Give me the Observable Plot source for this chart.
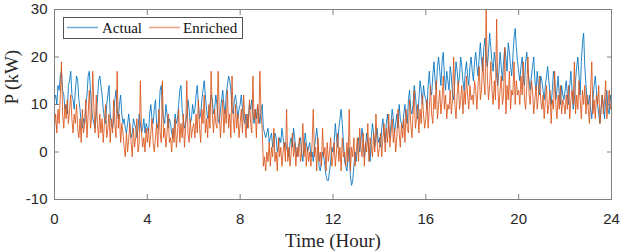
<!DOCTYPE html>
<html>
<head>
<meta charset="utf-8">
<script src="https://cdn.jsdelivr.net/npm/d3@7"></script>
<script src="https://cdn.jsdelivr.net/npm/@observablehq/plot@0.6"></script>
<style>
  body { margin: 0; background: #fff; }
  #wrap { position: relative; width: 622px; height: 252px; }
  #legend { position: absolute; left: 63px; top: 17px; }
</style>
</head>
<body>
<div id="wrap"></div>
<script>
// Actual power (kW), sampled every 3 minutes from 0 to 24 h
const actual = [
  11,12,10,14,13,16,17,13,12,9,10,8,14,15,17,12,11,9,13,16,
  15,11,9,6,5,7,6,10,12,16,17,13,9,7,6,5,8,11,15,16,
  14,12,9,7,6,10,12,14,8,6,5,7,11,13,9,7,10,12,8,6,
  7,5,4,6,8,5,3,4,7,6,5,3,5,8,6,4,5,7,4,6,
  5,4,8,10,7,6,9,11,6,5,8,13,14,9,7,6,10,8,5,7,
  6,4,3,5,8,6,7,10,13,14,9,7,5,6,8,11,9,6,7,10,
  8,9,12,14,10,7,8,11,13,15,12,9,7,8,10,12,11,8,9,12,
  10,7,6,9,11,13,10,8,12,14,16,15,13,9,8,11,12,10,7,9,
  10,12,9,7,6,8,5,7,10,9,11,8,6,9,7,10,8,6,9,10,
  5,4,3,4,5,2,3,4,1,2,4,3,0,1,3,2,5,3,1,2,
  1,0,-1,2,3,1,5,3,0,-1,1,2,3,0,-2,1,4,2,0,1,
  2,-1,0,-2,1,3,5,2,-3,-4,-2,0,-1,-3,-5,-6,-6,-4,-2,1,
  0,2,6,3,1,5,7,9,6,2,-2,-3,-4,-1,1,-5,-7,-6,-3,0,
  -2,1,3,0,2,5,3,-1,1,4,2,0,-2,3,6,4,1,3,5,2,
  3,1,5,7,4,2,6,8,5,3,6,9,7,4,6,8,5,10,7,6,
  5,8,10,7,6,11,13,9,8,10,14,12,9,7,11,15,13,10,14,12,
  11,9,14,17,13,12,16,19,15,13,18,20,17,14,19,21,16,13,17,15,
  13,18,16,12,11,15,19,17,14,16,20,18,15,13,17,19,16,14,18,20,
  17,15,19,21,18,16,20,23,19,17,22,24,20,18,21,25,22,19,17,21,
  19,16,14,17,21,18,15,19,22,20,17,23,21,18,16,20,24,26,22,19,
  17,15,18,20,16,14,19,21,17,15,13,16,18,20,15,13,17,14,12,16,
  15,13,11,14,16,18,15,12,10,13,17,15,11,13,16,12,10,14,12,11,
  13,15,12,10,14,17,13,9,11,15,18,20,16,12,19,23,25,18,14,11,
  10,12,9,7,11,14,16,13,10,8,6,9,12,10,7,11,13,9,8,12,
  10
];
// Enriched power (kW), same sampling
const enriched = [
  5,8,4,9,6,12,19,8,5,10,7,11,6,9,12,7,4,8,6,10,
  5,3,7,2,9,4,6,11,3,8,13,5,7,17,9,4,12,6,3,8,
  4,7,2,6,10,3,5,8,2,7,4,11,6,3,17,5,8,2,6,4,
  1,-1,4,0,3,6,2,-1,5,1,3,7,0,2,15,4,1,3,0,5,
  2,5,1,4,7,2,0,3,6,1,9,4,2,15,3,5,1,4,8,2,
  3,0,5,2,7,1,4,9,2,6,3,8,1,5,15,4,2,7,3,5,
  6,3,8,4,11,5,2,9,6,12,4,7,3,10,5,17,8,4,9,6,
  5,17,8,3,7,11,4,9,6,13,5,8,3,16,7,4,10,5,8,3,
  6,9,4,12,7,3,8,5,11,6,4,16,7,9,3,10,6,17,8,5,
  -3,-1,-4,0,-2,2,-3,1,-1,5,-2,0,-4,3,-1,1,-3,0,2,-2,
  9,-2,1,-3,0,4,-1,2,-3,1,-1,3,-2,0,6,-1,2,-3,1,-2,
  0,-3,2,9,-1,1,-4,3,-2,0,-3,5,-1,1,-4,2,-2,0,3,-3,
  -1,2,-3,0,4,-2,1,-4,3,-1,0,-3,2,-2,9,-4,1,-1,3,-3,
  0,3,-2,5,1,-1,4,-3,2,0,6,-2,3,1,-1,4,0,8,2,-1,
  1,4,-1,3,6,0,5,2,8,1,4,7,2,5,0,3,9,4,1,6,
  3,7,2,9,5,4,11,6,3,8,13,5,7,10,4,9,6,12,8,5,
  7,11,5,9,14,8,6,12,9,15,7,10,13,8,11,16,9,12,7,10,
  9,13,8,11,20,10,7,12,15,9,11,14,8,13,10,16,12,9,14,11,
  12,10,15,13,9,14,18,11,13,20,15,12,30,16,11,14,19,13,10,15,
  11,28,14,9,13,16,10,12,22,8,14,11,17,9,13,12,19,10,15,12,
  13,10,16,12,19,11,9,14,20,12,10,15,13,8,11,14,9,12,16,11,
  9,12,7,11,14,8,10,13,6,11,9,17,10,7,12,9,14,8,11,10,
  8,12,9,14,7,11,13,10,19,8,12,9,15,11,7,13,10,14,8,12,
  9,6,13,19,8,11,7,12,10,14,6,9,12,8,11,15,7,10,13,9,
  10
];
const xTicks = [0, 4, 8, 12, 16, 20, 24];
const yTicks = [-10, 0, 10, 20, 30];
const seriesNames = ["Actual", "Enriched"];
const seriesColors = ["#0072BD", "#D95319"];
const legendColors = ["#6aaad8", "#eea283"];

const toRows = (vals) => vals.map((v, i) => ({t: i * 24 / (vals.length - 1), v}));
const actualRows = toRows(actual);
const enrichedRows = toRows(enriched);

const axisStroke = "#808080";
const textColor = "#262626";
const sans = "'Liberation Sans', Arial, Helvetica, sans-serif";
const serif = "'Liberation Serif', 'Times New Roman', serif";

const chart = Plot.plot({
  width: 622,
  height: 252,
  marginLeft: 54,
  marginRight: 11,
  marginTop: 9,
  marginBottom: 53,
  style: {background: "white", overflow: "visible"},
  x: {domain: [0, 24]},
  y: {domain: [-10, 30]},
  marks: [
    Plot.line(actualRows, {x: "t", y: "v", stroke: seriesColors[0], strokeWidth: 1, strokeOpacity: 0.85}),
    Plot.line(enrichedRows, {x: "t", y: "v", stroke: seriesColors[1], strokeWidth: 1, strokeOpacity: 0.85}),
    Plot.frame({stroke: axisStroke, strokeWidth: 1}),
    Plot.axisX({ticks: xTicks, anchor: "bottom", tickSize: -5, tickPadding: 19, tickFormat: d => String(d),
      label: null, fontSize: 15, fontFamily: sans, stroke: axisStroke, fill: textColor}),
    Plot.axisX({ticks: xTicks, anchor: "top", tickSize: -5, tickFormat: () => "", label: null, stroke: axisStroke}),
    Plot.axisY({ticks: yTicks, anchor: "left", tickSize: -5, tickPadding: 12, tickFormat: d => String(d),
      label: null, fontSize: 15, fontFamily: sans, stroke: axisStroke, fill: textColor}),
    Plot.axisY({ticks: yTicks, anchor: "right", tickSize: -5, tickFormat: () => "", label: null, stroke: axisStroke}),
    Plot.text(["Time (Hour)"], {frameAnchor: "bottom", dy: 47, lineAnchor: "bottom", fontSize: 19,
      fontFamily: serif, fill: textColor}),
    Plot.text(["P (kW)"], {frameAnchor: "left", dx: -37, rotate: -90, lineAnchor: "bottom", fontSize: 19,
      fontFamily: serif, fill: textColor})
  ]
});
const wrap = document.getElementById("wrap");
wrap.appendChild(chart);

// Legend (inside the plot area, top-left)
const ns = "http://www.w3.org/2000/svg";
const leg = document.createElementNS(ns, "svg");
leg.setAttribute("id", "legend");
leg.setAttribute("width", 180);
leg.setAttribute("height", 22);
leg.style.position = "absolute";
leg.style.left = "63px";
leg.style.top = "17px";
const box = document.createElementNS(ns, "rect");
box.setAttribute("x", 0.5); box.setAttribute("y", 0.5);
box.setAttribute("width", 179); box.setAttribute("height", 21);
box.setAttribute("fill", "white"); box.setAttribute("stroke", "#555");
leg.appendChild(box);
const items = [{x0: 4, x1: 35, tx: 39}, {x0: 86, x1: 117, tx: 120}];
seriesNames.forEach((name, i) => {
  const ln = document.createElementNS(ns, "line");
  ln.setAttribute("x1", items[i].x0); ln.setAttribute("x2", items[i].x1);
  ln.setAttribute("y1", 10.5); ln.setAttribute("y2", 10.5);
  ln.setAttribute("stroke", legendColors[i]); ln.setAttribute("stroke-width", 1.5);
  leg.appendChild(ln);
  const tx = document.createElementNS(ns, "text");
  tx.setAttribute("x", items[i].tx); tx.setAttribute("y", 16);
  tx.setAttribute("font-family", serif); tx.setAttribute("font-size", 15);
  tx.setAttribute("fill", "#111");
  tx.textContent = name;
  leg.appendChild(tx);
});
wrap.appendChild(leg);
</script>
</body>
</html>
